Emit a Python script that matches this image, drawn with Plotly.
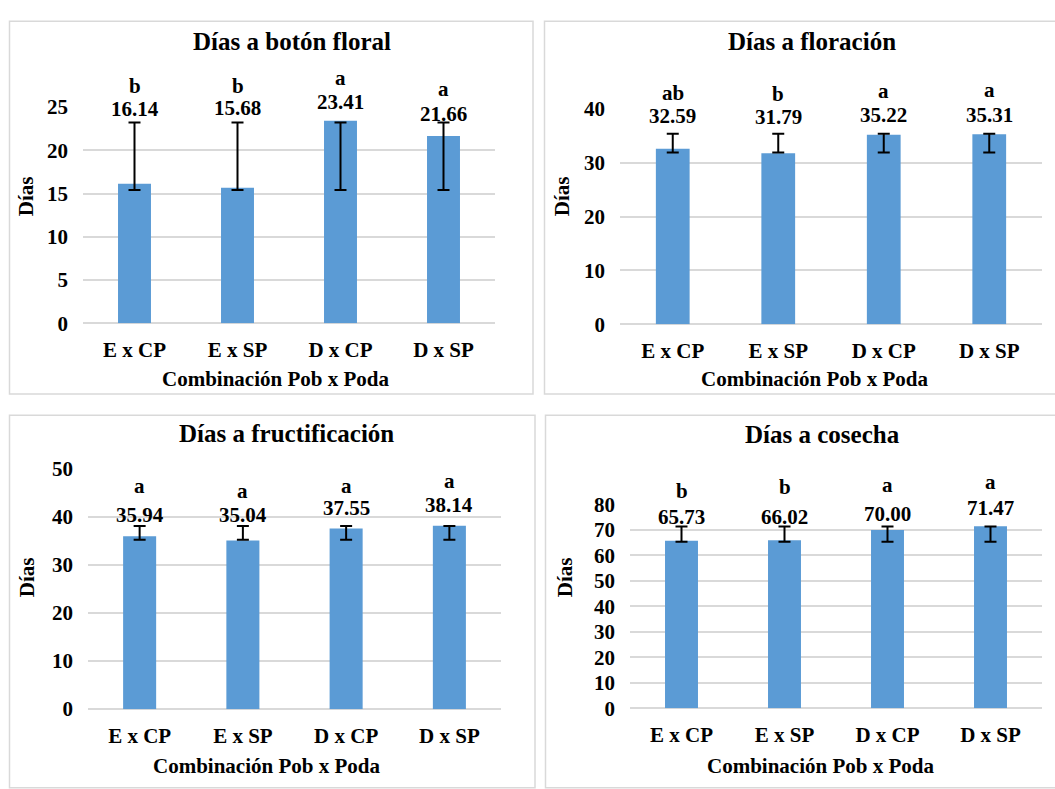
import plotly.graph_objects as go

categories = ["E x CP", "E x SP", "D x CP", "D x SP"]

titles = ["Días a botón floral", "Días a floración", "Días a fructificación", "Días a cosecha"]

values_boton = [16.14, 15.68, 23.41, 21.66]
values_floracion = [32.59, 31.79, 35.22, 35.31]
values_fructif = [35.94, 35.04, 37.55, 38.14]
values_cosecha = [65.73, 66.02, 70.00, 71.47]

letters_boton = ["b", "b", "a", "a"]
letters_floracion = ["ab", "b", "a", "a"]
letters_fructif = ["a", "a", "a", "a"]
letters_cosecha = ["b", "b", "a", "a"]

# error bar low / high ends
err_lo_boton = [15.4, 15.4, 15.4, 15.4]
err_hi_boton = [23.2, 23.2, 23.2, 23.2]
err_lo_floracion = [31.9, 31.9, 31.9, 31.9]
err_hi_floracion = [35.4, 35.4, 35.4, 35.4]
err_lo_fructif = [35.2, 35.2, 35.2, 35.2]
err_hi_fructif = [38.1, 38.1, 38.1, 38.1]
err_lo_cosecha = [65.4, 65.4, 65.4, 65.4]
err_hi_cosecha = [71.4, 71.4, 71.4, 71.4]

y_max = [25, 40, 50, 80]
y_dtick = [5, 10, 10, 10]

# label placement (layout positions, in axis units)
num_pos = [[24.8, 24.85, 25.6, 24.2], [38.7, 38.5, 38.9, 38.9],
           [40.4, 40.3, 41.8, 42.5], [75.0, 75.0, 76.3, 78.5]]
let_pos = [[27.4, 27.4, 28.3, 27.1], [43.0, 42.7, 43.3, 43.6],
           [46.3, 45.3, 46.5, 47.5], [85.5, 87.0, 87.8, 89.0]]

W, H = 1055, 789
FONT = "Liberation Serif"
BAR_COLOR = "#5B9BD5"
GRID = "#D9D9D9"

panels = [
    dict(vals=values_boton, lets=letters_boton, lo=err_lo_boton, hi=err_hi_boton,
         px=(83, 495), py=(98, 321), title=(292, 30), xt=(275, 378), yt=(26, 190),
         box=(9.5, 9.5, 533, 394)),
    dict(vals=values_floracion, lets=letters_floracion, lo=err_lo_floracion, hi=err_hi_floracion,
         px=(620, 1042), py=(100, 322), title=(812, 30), xt=(814, 378), yt=(562, 190),
         box=(544.5, 9.5, 1060, 394)),
    dict(vals=values_fructif, lets=letters_fructif, lo=err_lo_fructif, hi=err_hi_fructif,
         px=(88, 501), py=(471, 719), title=(286, 435), xt=(266, 778), yt=(27, 583),
         box=(9.5, 416, 535, 800)),
    dict(vals=values_cosecha, lets=letters_cosecha, lo=err_lo_cosecha, hi=err_hi_cosecha,
         px=(630, 1042), py=(508, 718), title=(822, 436), xt=(820, 778), yt=(565, 583),
         box=(545.5, 416, 1060, 800)),
]

fig = go.Figure()
annotations = []
shapes = []

for i, p in enumerate(panels):
    n = "" if i == 0 else str(i + 1)
    xa, ya = "x" + n, "y" + n
    fig.add_trace(go.Bar(x=categories, y=p["vals"], xaxis=xa, yaxis=ya,
                         marker=dict(color=BAR_COLOR, line=dict(width=0)),
                         showlegend=False, hoverinfo="skip"))
    mids = [(a + b) / 2 for a, b in zip(p["lo"], p["hi"])]
    half = [(b - a) / 2 for a, b in zip(p["lo"], p["hi"])]
    fig.add_trace(go.Scatter(x=categories, y=mids, xaxis=xa, yaxis=ya, mode="markers",
                             marker=dict(opacity=0, size=1),
                             error_y=dict(type="data", array=half, visible=True,
                                          color="black", thickness=2, width=6),
                             showlegend=False, hoverinfo="skip"))
    dom_x = [p["px"][0] / W, p["px"][1] / W]
    dom_y = [1 - p["py"][1] / H, 1 - p["py"][0] / H]
    fig.update_layout(**{
        "xaxis" + n: dict(domain=dom_x, anchor=ya, type="category", showgrid=False,
                          showline=False, ticks="", ticklabelstandoff=12,
                          tickfont=dict(family=FONT, size=21, color="black", weight="bold")),
        "yaxis" + n: dict(domain=dom_y, anchor=xa, range=[0, y_max[i]], dtick=y_dtick[i],
                          showgrid=True, gridcolor=GRID, gridwidth=1.5,
                          zeroline=True, zerolinecolor=GRID, zerolinewidth=1.5,
                          showline=False, ticks="", ticklabelstandoff=14,
                          tickfont=dict(family=FONT, size=21, color="black", weight="bold")),
    })
    for j, c in enumerate(categories):
        annotations.append(dict(x=c, y=num_pos[i][j] / y_max[i], xref=xa, yref=ya + " domain",
                                text="<b>%.2f</b>" % p["vals"][j], showarrow=False,
                                font=dict(family=FONT, size=21, color="black"),
                                xanchor="center", yanchor="middle", borderpad=0))
        annotations.append(dict(x=c, y=let_pos[i][j] / y_max[i], xref=xa, yref=ya + " domain",
                                text="<b>%s</b>" % p["lets"][j], showarrow=False,
                                font=dict(family=FONT, size=21, color="black"),
                                xanchor="center", yanchor="middle", borderpad=0))
    annotations.append(dict(x=p["title"][0] / W, y=1 - p["title"][1] / H, xref="paper", yref="paper",
                            text="<b>%s</b>" % titles[i], showarrow=False,
                            font=dict(family=FONT, size=25, color="black"),
                            xanchor="center", yanchor="middle"))
    annotations.append(dict(x=p["xt"][0] / W, y=1 - p["xt"][1] / H, xref="paper", yref="paper",
                            text="<b>Combinación Pob x Poda</b>", showarrow=False,
                            font=dict(family=FONT, size=21, color="black"),
                            xanchor="center", yanchor="middle"))
    annotations.append(dict(x=p["yt"][0] / W, y=1 - p["yt"][1] / H, xref="paper", yref="paper",
                            text="<b>Días</b>", showarrow=False, textangle=-90,
                            font=dict(family=FONT, size=21, color="black"),
                            xanchor="center", yanchor="middle"))
    x0, y0, x1, y1 = p["box"]
    shapes.append(dict(type="rect", xref="paper", yref="paper",
                       x0=x0 / W, x1=x1 / W, y0=1 - y1 / H, y1=1 - y0 / H,
                       line=dict(color=GRID, width=1.5), fillcolor="rgba(0,0,0,0)", layer="below"))

fig.update_layout(width=W, height=H, margin=dict(l=0, r=0, t=0, b=0),
                  paper_bgcolor="white", plot_bgcolor="white",
                  bargap=0.68, annotations=annotations, shapes=shapes,
                  font=dict(family=FONT, color="black"))

fig.write_html("out.html", config={"displayModeBar": False},
               post_script="document.body.style.margin='0';document.body.style.overflow='hidden';")
